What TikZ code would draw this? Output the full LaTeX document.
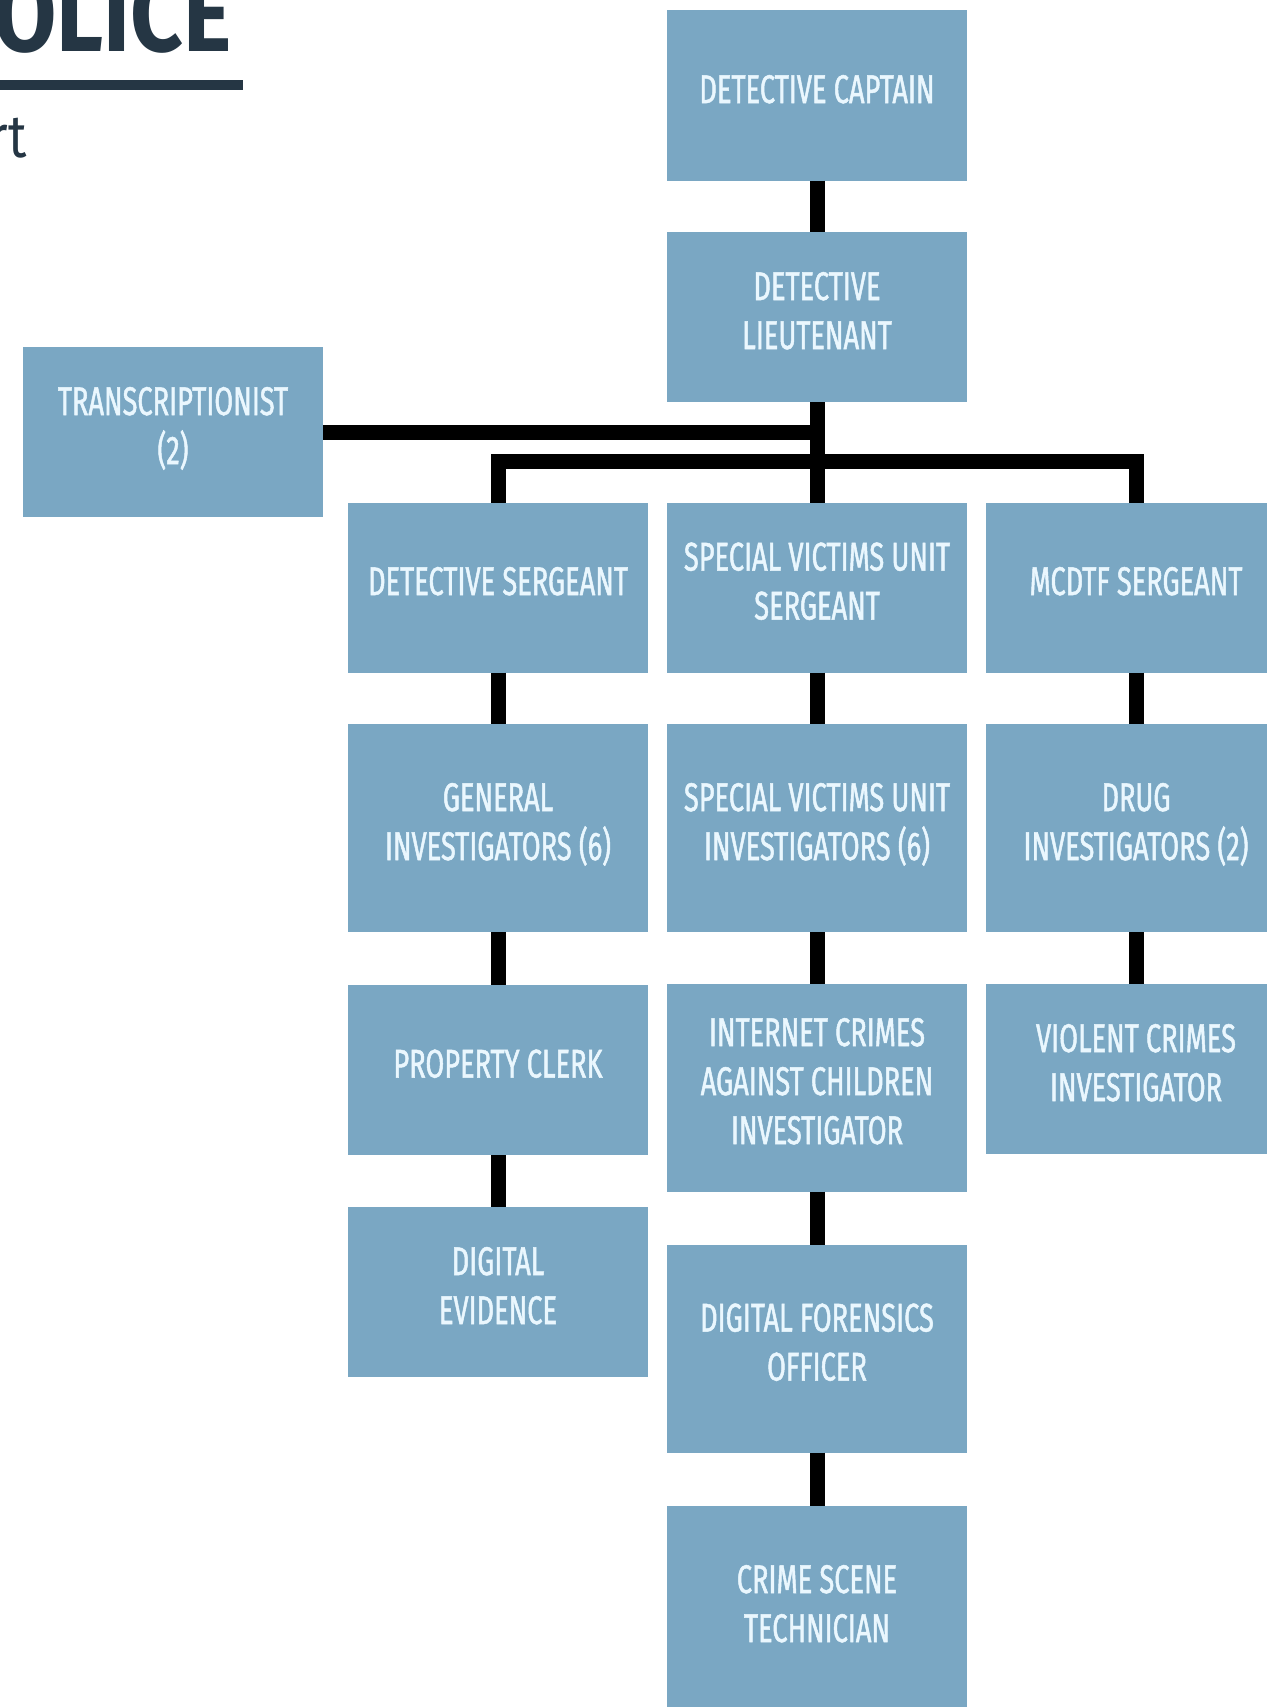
\documentclass[tikz,border=0pt]{standalone}
\usepackage{fontspec}
\newfontfamily\boxfont[FakeStretch=0.68,FakeBold=1.2]{Fira Sans}
\newfontfamily\headfont[FakeStretch=0.85]{Fira Sans}
\definecolor{boxblue}{HTML}{7AA7C3}
\definecolor{boxtext}{HTML}{EAF7FE}
\definecolor{slate}{HTML}{253644}
\pgfkeys{tikz/orgbox/.style={fill=boxblue, text=boxtext,
                                 font=\boxfont\fontsize{20}{24.5}\selectfont,
                                 align=center, inner sep=0pt, outer sep=0pt, text depth=6.5pt,
                                 minimum width=150pt, minimum height=85pt}}
\pgfkeys{tikz/orgtall/.style={orgbox, minimum height=104pt}}
\pgfkeys{tikz/orgline/.style={line width=7.5pt, black}}

\begin{document}
\begin{tikzpicture}[x=0.5pt,y=-0.5pt]
    \useasboundingbox (0,0) rectangle (1267,1707);
    % heading fragment
    \node [anchor=base east, inner sep=0pt, text=slate, font=\headfont\bfseries\fontsize{54}{54}\selectfont] (head) at (232,52) {OLICE};
    \fill [slate] (-5,80) rectangle (243,90);
    \node [anchor=base east, inner sep=0pt, text=slate, font=\headfont\fontsize{30}{30}\selectfont] (sub) at (27,157) {rt};
    % boxes
    \node [orgbox] (cap) at (817,95.5) {DETECTIVE CAPTAIN};
    \node [orgbox] (lieut) at (817,317) {DETECTIVE\\LIEUTENANT};
    \node [orgbox] (trans) at (173,432) {TRANSCRIPTIONIST\\(2)};
    \node [orgbox] (sgtL) at (498,587.5) {DETECTIVE SERGEANT};
    \node [orgbox] (sgtM) at (817,587.5) {SPECIAL VICTIMS UNIT\\SERGEANT};
    \node [orgbox] (sgtR) at (1136,587.5) {MCDTF SERGEANT};
    \node [orgtall] (genInv) at (498,828) {GENERAL\\INVESTIGATORS (6)};
    \node [orgtall] (svuInv) at (817,828) {SPECIAL VICTIMS UNIT\\INVESTIGATORS (6)};
    \node [orgtall] (drugInv) at (1136,828) {DRUG\\INVESTIGATORS (2)};
    \node [orgbox] (clerk) at (498,1070) {PROPERTY CLERK};
    \node [orgtall] (icac) at (817,1087.5) {INTERNET CRIMES\\AGAINST CHILDREN\\INVESTIGATOR};
    \node [orgbox] (violent) at (1136,1069) {VIOLENT CRIMES\\INVESTIGATOR};
    \node [orgbox] (digEv) at (498,1292) {DIGITAL\\EVIDENCE};
    \node [orgtall] (dfo) at (817,1348.5) {DIGITAL FORENSICS\\OFFICER};
    \node [orgtall] (cst) at (817,1610) {CRIME SCENE\\TECHNICIAN};
    % connectors
    \coordinate (bus) at (817,461);
    \draw [orgline] (cap) -- (lieut);
    \draw [orgline] (lieut) -- (sgtM);
    \draw [orgline] (trans.east) -- (trans.east -| lieut.south);
    \draw [orgline] (sgtL.north) |- (bus) -| (sgtR.north);
    \draw [orgline] (sgtL) -- (genInv);
    \draw [orgline] (genInv) -- (clerk);
    \draw [orgline] (clerk) -- (digEv);
    \draw [orgline] (sgtM) -- (svuInv);
    \draw [orgline] (svuInv) -- (icac);
    \draw [orgline] (icac) -- (dfo);
    \draw [orgline] (dfo) -- (cst);
    \draw [orgline] (sgtR) -- (drugInv);
    \draw [orgline] (drugInv) -- (violent);
\end{tikzpicture}
\end{document}
